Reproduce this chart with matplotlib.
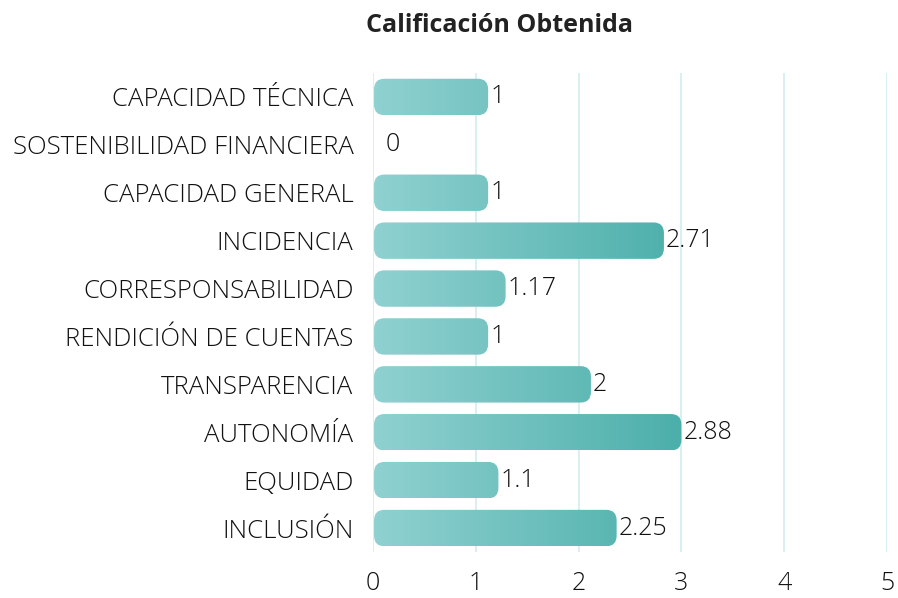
import numpy as np
import matplotlib
matplotlib.use("Agg")
import matplotlib.pyplot as plt
from matplotlib.patches import FancyBboxPatch
from matplotlib.colors import LinearSegmentedColormap

plt.rcParams["font.family"] = ["Open Sans", "DejaVu Sans"]

# Data
categories = ["CAPACIDAD TÉCNICA", "SOSTENIBILIDAD FINANCIERA", "CAPACIDAD GENERAL",
              "INCIDENCIA", "CORRESPONSABILIDAD", "RENDICIÓN DE CUENTAS",
              "TRANSPARENCIA", "AUTONOMÍA", "EQUIDAD", "INCLUSIÓN"]
scores = [1, 0, 1, 2.71, 1.17, 1, 2, 2.88, 1.1, 2.25]
score_labels = ["1", "0", "1", "2.71", "1.17", "1", "2", "2.88", "1.1", "2.25"]
x_ticks = [0, 1, 2, 3, 4, 5]

fig = plt.figure(figsize=(8.98, 5.98), dpi=100)
ax = fig.add_axes([373 / 898, 1 - 552 / 598, (887 - 373) / 898, (552 - 73) / 598])

cmap = LinearSegmentedColormap.from_list("teal", ["#90d1d1", "#4cafaa"])
grad = np.linspace(0, 1, 256).reshape(1, -1)

bar_h = 0.76
cap = 0.12  # rounded end sticks out past the value
for i, v in enumerate(scores):
    if v > 0:
        patch = FancyBboxPatch((0.01, i - bar_h / 2), v + cap - 0.01, bar_h,
                               boxstyle="round,pad=0,rounding_size=0.1",
                               mutation_aspect=2.2,
                               facecolor="none", edgecolor="none")
        ax.add_patch(patch)
        im = ax.imshow(grad, cmap=cmap, aspect="auto",
                       extent=[0, max(scores) + cap, i + bar_h / 2, i - bar_h / 2],
                       zorder=2)
        im.set_clip_path(patch)
        end = v + cap
    else:
        end = 0.1
    ax.text(end + 0.02, i, score_labels[i], va="center", ha="left",
            fontsize=18, fontweight="light", color="#111111", zorder=3)

ax.set_xlim(0, 5)
ax.set_ylim(len(categories) - 0.5, -0.5)

ax.set_yticks(range(len(categories)))
ax.set_yticklabels(categories, fontsize=18.5, fontweight="light", color="#111111")
ax.set_xticks(x_ticks)
ax.set_xticklabels([str(t) for t in x_ticks], fontsize=18, fontweight="light", color="#111111")
ax.tick_params(axis="both", length=0)
ax.tick_params(axis="x", pad=14)
ax.tick_params(axis="y", pad=14)

ax.grid(axis="x", color="#d2eeee", linewidth=1.2, zorder=0)
ax.set_axisbelow(True)
for s in ax.spines.values():
    s.set_visible(False)

fig.text(500 / 898, 1 - 25 / 598, "Calificación Obtenida", ha="center", va="center",
         fontsize=18, fontweight="bold", color="#222222")

fig.savefig("out.png", dpi=100)
